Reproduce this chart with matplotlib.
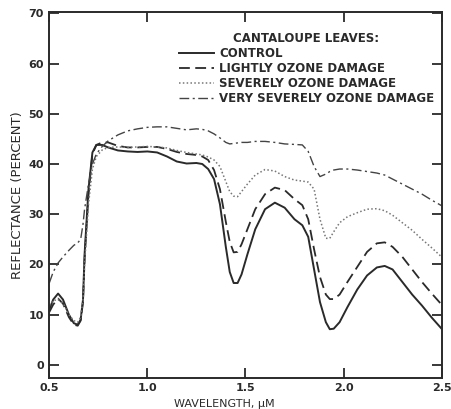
import matplotlib
matplotlib.use("Agg")
import matplotlib.pyplot as plt

# wavelength grid (um) shared by all four curves
wavelength = [0.50, 0.52, 0.545, 0.57, 0.60, 0.625, 0.645, 0.66, 0.672, 0.68,
              0.70, 0.72, 0.74, 0.77, 0.80, 0.85, 0.90, 0.95, 1.00, 1.05,
              1.10, 1.15, 1.20, 1.25, 1.28, 1.31, 1.34, 1.37, 1.40, 1.42,
              1.44, 1.46, 1.48, 1.51, 1.55, 1.60, 1.65, 1.70, 1.75, 1.79,
              1.82, 1.85, 1.88, 1.91, 1.93, 1.95, 1.98, 2.02, 2.07, 2.12,
              2.17, 2.21, 2.25, 2.30, 2.35, 2.40, 2.45, 2.50]

control = [11.0, 13.0, 14.2, 13.0, 10.0, 8.3, 8.0, 9.0, 13.0, 22.0,
           35.0, 42.3, 43.8, 43.8, 43.3, 42.7, 42.5, 42.4, 42.5, 42.3,
           41.5, 40.5, 40.1, 40.2, 40.0, 39.0, 37.0, 32.0, 23.5, 18.5,
           16.3, 16.3, 18.0, 22.0, 27.0, 31.0, 32.3, 31.3, 29.0, 27.8,
           25.5, 19.0, 12.5, 8.5, 7.1, 7.2, 8.5, 11.5, 15.0, 17.8,
           19.4, 19.7, 19.0, 16.5, 14.0, 11.8, 9.4, 7.2]

lightly = [10.5, 12.0, 13.2, 12.2, 9.5, 8.0, 7.8, 8.8, 12.5, 21.0,
           34.0, 42.0, 43.8, 44.3, 44.3, 43.6, 43.3, 43.3, 43.4, 43.4,
           43.0, 42.4, 42.0, 41.8, 41.5, 40.8, 38.8, 35.0, 28.5, 24.5,
           22.4, 22.5, 24.0, 27.0, 31.0, 34.0, 35.3, 34.8, 33.0, 31.8,
           29.0, 23.0, 17.5, 14.0, 13.1, 13.1, 14.0, 16.5, 19.5, 22.5,
           24.2, 24.4, 23.5, 21.5, 19.0, 16.5, 14.2, 12.0]

severely = [11.8, 12.8, 13.0, 12.3, 10.0, 8.8, 8.5, 9.5, 13.0, 20.0,
            32.0, 39.0, 41.5, 42.8, 43.3, 43.4, 43.3, 43.4, 43.5, 43.4,
            43.2, 42.7, 42.3, 42.0, 41.8, 41.4, 40.8, 39.5, 36.5, 34.5,
            33.6, 33.5, 34.5, 36.0, 37.8, 38.9, 38.6, 37.5, 36.8, 36.6,
            36.4, 35.0, 29.0, 25.2, 25.2, 26.5, 28.3, 29.5, 30.3, 31.0,
            31.1, 30.7, 29.8, 28.3, 26.8, 25.0, 23.3, 21.5]

very_severely = [16.3, 18.5, 20.3, 21.5, 22.8, 23.8, 24.3, 25.0, 28.0, 31.0,
                 36.0, 40.0, 42.0, 43.5, 44.6, 45.8, 46.6, 47.0, 47.3, 47.4,
                 47.4, 47.1, 46.8, 47.0, 46.9, 46.6, 46.0, 45.2, 44.3, 44.0,
                 44.1, 44.2, 44.3, 44.3, 44.5, 44.5, 44.3, 44.0, 43.9, 43.8,
                 42.5, 39.5, 37.5, 38.0, 38.5, 38.8, 39.0, 39.0, 38.8, 38.5,
                 38.2, 37.8, 37.0, 36.0, 35.0, 34.0, 32.8, 31.7]

labels = ["CONTROL", "LIGHTLY OZONE DAMAGE", "SEVERELY OZONE DAMAGE",
          "VERY SEVERELY OZONE DAMAGE"]

plt.rcParams["font.family"] = "DejaVu Sans"
plt.rcParams["font.weight"] = "bold"

fig = plt.figure(figsize=(4.52, 4.09), dpi=100)
ax = fig.add_axes([0.109, 0.076, 0.868, 0.895])

ink = "#2a2a2a"
ax.plot(wavelength, control, color=ink, lw=1.4, ls="-", label=labels[0])
ax.plot(wavelength, lightly, color=ink, lw=1.3, ls=(0, (6, 3)), label=labels[1])
ax.plot(wavelength, severely, color="#777777", lw=1.1, ls=(0, (1, 1.5)), label=labels[2])
ax.plot(wavelength, very_severely, color="#444444", lw=1.0,
        ls=(0, (7, 2.5, 1.5, 2.5)), label=labels[3])

ax.set_xlim(0.5, 2.5)
ax.set_ylim(-2.6, 70.3)
ax.set_xticks([0.5, 1.0, 1.5, 2.0, 2.5])
ax.set_xticklabels(["0.5", "1.0", "1.5", "2.0", "2.5"])
ax.set_yticks(range(0, 71, 10))
ax.tick_params(direction="in", length=7, width=1.3, labelsize=8, colors=ink,
               top=True, right=True, pad=4)
for s in ax.spines.values():
    s.set_linewidth(1.4)
    s.set_color(ink)

ax.set_xlabel("WAVELENGTH, \u03bcM", fontsize=8, color=ink)
ax.xaxis.set_label_coords(0.447, -0.058)
ax.set_ylabel("REFLECTANCE (PERCENT)", fontsize=9.5, color=ink, labelpad=3)

leg = ax.legend(title="CANTALOUPE LEAVES:", loc="upper left",
                bbox_to_anchor=(0.33, 0.945), frameon=False, fontsize=8.5,
                title_fontsize=8.5, handlelength=3.0, handletextpad=0.4,
                labelspacing=0.18, borderpad=0, borderaxespad=0)
for t in leg.get_texts():
    t.set_color(ink)
leg.get_title().set_color(ink)

fig.savefig("out.png", dpi=100, facecolor="white")
